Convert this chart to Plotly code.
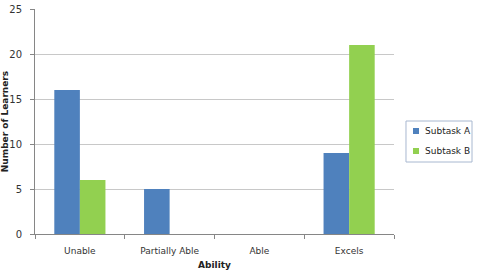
import plotly.graph_objects as go

categories = ["Unable", "Partially Able", "Able", "Excels"]
subtask_a = [16, 5, 0, 9]
subtask_b = [6, 0, 0, 21]
y_ticks = [0, 5, 10, 15, 20, 25]
series_names = ["Subtask A", "Subtask B"]
series_colors = ["#4F81BD", "#92D050"]

fig = go.Figure()
for name, vals, col in zip(series_names, [subtask_a, subtask_b], series_colors):
    fig.add_trace(go.Bar(x=categories, y=vals, name=name, showlegend=False,
                         marker=dict(color=col, line=dict(width=0))))

font_family = "DejaVu Sans, Verdana, sans-serif"
fig.update_layout(
    width=477, height=279,
    margin=dict(l=35, r=83, t=9, b=45, autoexpand=False),
    paper_bgcolor="white", plot_bgcolor="white",
    barmode="group", bargap=0.43, bargroupgap=0,
    font=dict(family=font_family, size=9, color="#333333"),
    showlegend=False,
)

# custom compact legend (paper coordinates, outside the plot area on the right)
fig.add_shape(type="rect", xref="paper", yref="paper", x0=1.0334, x1=1.2173, y0=0.32, y1=0.5022,
              line=dict(color="#a8b8d0", width=1), fillcolor="white", layer="above")
legend_y = [0.4578, 0.3689]
for name, col, yc in zip(series_names, series_colors, legend_y):
    fig.add_shape(type="rect", xref="paper", yref="paper", x0=1.0529, x1=1.0696,
                  y0=yc - 0.0133, y1=yc + 0.0133, line=dict(width=0), fillcolor=col, layer="above")
    fig.add_annotation(text=name, xref="paper", yref="paper", x=1.0808, y=yc,
                       xanchor="left", yanchor="middle", showarrow=False,
                       font=dict(size=9, color="#222222"))

fig.update_xaxes(
    showline=True, linecolor="#868686", linewidth=1,
    ticks="outside", tickson="boundaries", ticklen=4, tickcolor="#868686",
    ticklabelstandoff=8,
    title=dict(text="<b>Ability</b>", font=dict(size=9, color="#222222"), standoff=6),
    tickfont=dict(size=9, color="#333333"),
)
fig.update_yaxes(
    range=[0, 25], tickvals=y_ticks, showgrid=True, gridcolor="#c8c8c8", gridwidth=1,
    showline=True, linecolor="#868686", linewidth=1,
    ticks="outside", ticklen=4, tickcolor="#868686",
    ticklabelstandoff=6,
    title=dict(text="<b>Number of Learners</b>", font=dict(size=9, color="#222222"), standoff=2),
    tickfont=dict(size=10, color="#333333"), zeroline=False,
)
fig.write_html("out.html")
